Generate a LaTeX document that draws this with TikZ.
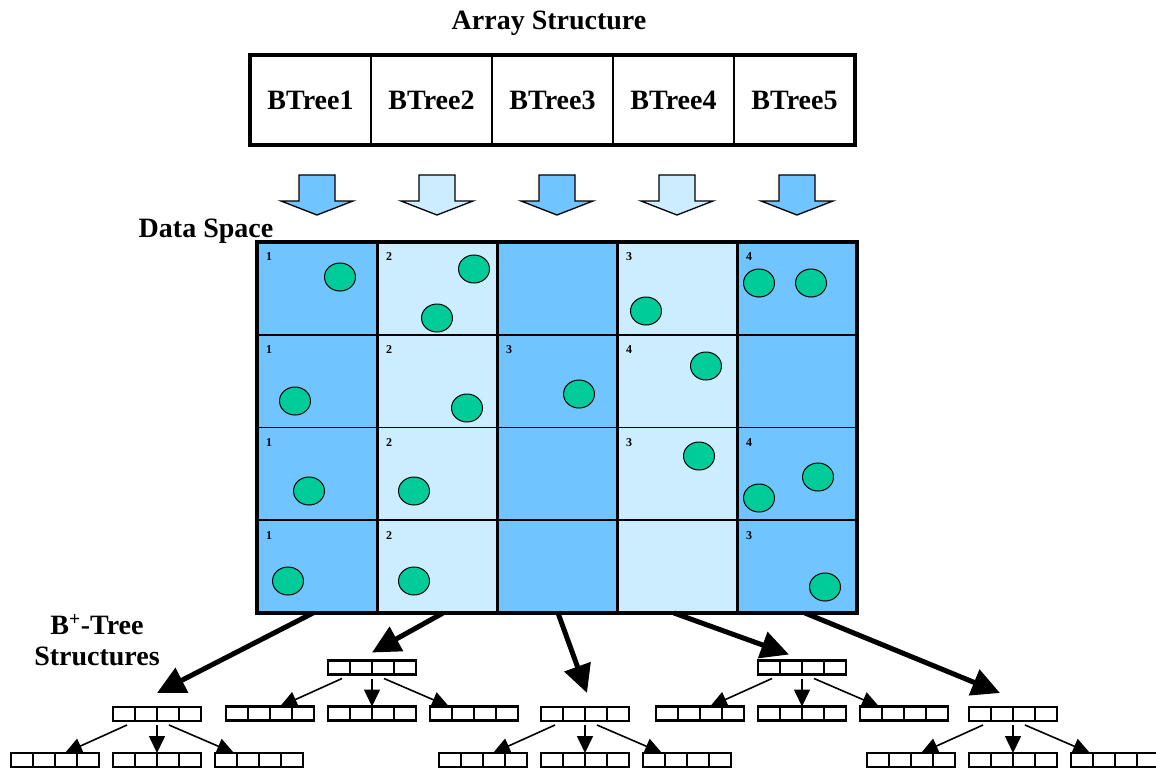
\documentclass[tikz,border=0pt]{standalone}
\usepackage{fontspec}
\setmainfont{Liberation Serif}
\usetikzlibrary{
  arrows.meta,
  positioning
}
\definecolor{cellblue}{HTML}{70C4FF}
\definecolor{cellpale}{HTML}{CCECFF}
\definecolor{dotgreen}{HTML}{00CC99}

\begin{document}
\begin{tikzpicture}[
  x=1pt, y=-1pt,
  bigfont/.style={font=\fontsize{28}{31}\selectfont\bfseries},
  arraycell/.style={
    draw, line width=2pt, bigfont,
    minimum width=121pt, minimum height=90pt,
    inner sep=0pt, outer sep=0pt
  },
  gridcell/.style={
    draw, line width=1.8pt,
    minimum width=120pt, minimum height=92.75pt,
    inner sep=0pt, outer sep=0pt
  },
  cellnum/.style={font=\fontsize{12}{12}\selectfont\bfseries, inner sep=0pt},
  dot/.style={draw, line width=1pt, fill=dotgreen},
  blockarrow/.style={draw, line width=1.3pt, line join=miter},
  keynode/.style={
    draw, line width=2.3pt,
    minimum width=88pt, minimum height=14pt,
    inner sep=0pt, outer sep=0pt,
    path picture={
      \foreach \k in {1,2,3}
        \draw[line width=2.3pt] ([xshift=\k*22pt]path picture bounding box.south west)
          -- ([xshift=\k*22pt]path picture bounding box.north west);
    }
  },
  bigarrow/.style={line width=5pt, -{Triangle[length=28pt,width=27pt]}},
  smallarrow/.style={line width=1.6pt, -{Triangle[length=17pt,width=16pt]}}
]
\useasboundingbox (0,0) rectangle (1156,768);

% ---- Array structure ----
\node[bigfont] (title) at (549,23) {Array Structure};
\node[arraycell] (a1) at (310.5,100) {BTree1};
\node[arraycell, right=0pt of a1] (a2) {BTree2};
\node[arraycell, right=0pt of a2] (a3) {BTree3};
\node[arraycell, right=0pt of a3] (a4) {BTree4};
\node[arraycell, right=0pt of a4] (a5) {BTree5};
\draw[line width=4.5pt] (a1.north west) rectangle (a5.south east);

% ---- Data space grid ----
\node[bigfont] (dataspace) at (206,231) {Data Space};
\foreach \r in {1,...,4} {
  \foreach \c/\fc in {1/cellblue,2/cellpale,3/cellblue,4/cellpale,5/cellblue} {
    \node[gridcell, fill=\fc] (g-\r-\c) at ({317+120*(\c-1)},{288.375+92.75*(\r-1)}) {};
  }
}
\foreach \c in {2,...,5}
  \draw[line width=3pt] (g-1-\c.north west) -- (g-4-\c.south west);
\draw[line width=4.5pt] (g-1-1.north west) rectangle (g-4-5.south east);

% Cell numbers
\foreach \r/\c/\n in {1/1/1, 1/2/2, 1/4/3, 1/5/4, 2/1/1, 2/2/2, 2/3/3, 2/4/4,
                      3/1/1, 3/2/2, 3/4/3, 3/5/4, 4/1/1, 4/2/2, 4/5/3}
  \node[cellnum] (n-\r-\c) at ([xshift=12pt,yshift=-15pt]g-\r-\c.north west) {\n};

% Data points
\foreach \x/\y in {340/277, 474/269, 437/318, 646/311, 759/283, 811/283,
                   295/401, 467/408, 579/394, 706/366,
                   309/491, 414/491, 699/456, 759/498, 818/477,
                   288/581, 414/581, 825/587}
  \draw[dot] (\x,\y) ellipse [x radius=15.5pt, y radius=14pt];

% Block arrows array -> data space
\foreach \c/\fc in {1/cellblue,2/cellpale,3/cellblue,4/cellpale,5/cellblue} {
  \pgfmathsetmacro{\ax}{317+120*(\c-1)}
  \draw[blockarrow, fill=\fc] (\ax-18,175) -- (\ax+18,175) -- (\ax+18,201)
    -- (\ax+36,201) -- (\ax,215) -- (\ax-36,201) -- (\ax-18,201) -- cycle;
}

% ---- B+-tree layer ----
\node[bigfont, align=center] (btlabel) at (97,640) {B\textsuperscript{+}-Tree\\Structures};
\foreach \t/\x/\y in {1/157/714, 2/372/667.5, 3/585/714, 4/802/667.5, 5/1013/714} {
  \node[keynode] (t\t) at (\x,\y) {};
  \node[keynode, below=32pt of t\t] (t\t-b) {};
  \node[keynode, left=14pt of t\t-b] (t\t-a) {};
  \node[keynode, right=14pt of t\t-b] (t\t-c) {};
  \draw[smallarrow] ([xshift=-30pt,yshift=-4pt]t\t.south) -- ([xshift=10pt]t\t-a.north);
  \draw[smallarrow] ([yshift=-4pt]t\t.south) -- (t\t-b.north);
  \draw[smallarrow] ([xshift=12pt,yshift=-4pt]t\t.south) -- ([xshift=-25pt]t\t-c.north);
}

% Columns -> trees
\draw[bigarrow] ([xshift=-4pt]g-4-1.south) -- ([yshift=14pt]t1.north);
\draw[bigarrow] ([xshift=6pt]g-4-2.south) -- ([yshift=8pt]t2.north);
\draw[bigarrow] ([xshift=1pt]g-4-3.south) -- ([xshift=2pt,yshift=14pt]t3.north);
\draw[bigarrow] ([xshift=-3pt]g-4-4.south) -- ([xshift=-13pt,yshift=6pt]t4.north);
\draw[bigarrow] ([xshift=8pt]g-4-5.south) -- ([xshift=-13pt,yshift=14pt]t5.north);

\end{tikzpicture}
\end{document}
